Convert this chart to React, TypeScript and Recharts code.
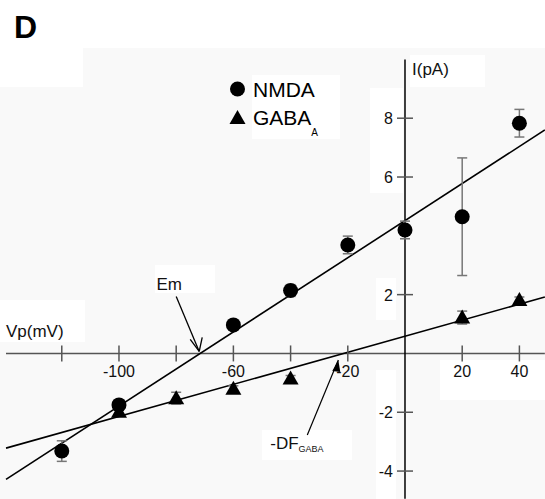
import React from "react";
import {
  ComposedChart,
  Scatter,
  XAxis,
  YAxis,
  ReferenceLine,
  ReferenceDot,
  ErrorBar,
} from "recharts";

// NMDA data (Vp in mV, I in pA)
const nmdaV = [-120, -100, -60, -40, -20, 0, 20, 40];
const nmdaI = [-3.32, -1.75, 0.97, 2.14, 3.69, 4.2, 4.65, 7.83];
const nmdaErr = [0.35, 0.15, 0.1, 0.2, 0.3, 0.3, 2.0, 0.47];

// GABA-A data
const gabaV = [-100, -80, -60, -40, 20, 40];
const gabaI = [-1.98, -1.52, -1.2, -0.85, 1.22, 1.82];
const gabaErr = [0.15, 0.2, 0.1, 0.1, 0.22, 0.1];

// Fitted lines (endpoints)
const nmdaFitV = [-139.5, 48.9];
const nmdaFitI = [-4.28, 7.6];
const gabaFitV = [-139.5, 48.9];
const gabaFitI = [-3.22, 1.92];

// Axis ticks
const xTicks = [-120, -100, -80, -60, -40, -20, 20, 40];
const xTickLabels = [-100, -60, -20, 20, 40];
const yTicks = [-4, -2, 2, 6, 8];

// Annotation positions (data coords)
const emV = -71.6;
const dfV = -20;

const nmdaData = nmdaV.map((v, i) => ({ v, i: nmdaI[i], e: nmdaErr[i] }));
const gabaData = gabaV.map((v, i) => ({ v, i: gabaI[i], e: gabaErr[i] }));

const FONT = "'Liberation Sans', Arial, Helvetica, sans-serif";

const Circle = (p: any) => <circle cx={p.cx} cy={p.cy} r={7.5} fill="#000" />;
const Triangle = (p: any) => (
  <polygon
    points={`${p.cx - 8},${p.cy + 6} ${p.cx + 8},${p.cy + 6} ${p.cx},${p.cy - 8}`}
    fill="#000"
  />
);

const XTick = (label: boolean) => (p: any) => (
  <g>
    <line x1={p.cx} y1={p.cy - 8} x2={p.cx} y2={p.cy + 8} stroke="#555" strokeWidth={1.5} />
    {label && (
      <text
        x={p.cx}
        y={p.cy + 24}
        textAnchor="middle"
        fontSize={16}
        fontFamily={FONT}
        fill="#111"
      >
        {p.label}
      </text>
    )}
  </g>
);

const YTick = (p: any) => (
  <g>
    <line x1={p.cx - 8} y1={p.cy} x2={p.cx + 8} y2={p.cy} stroke="#555" strokeWidth={1.5} />
    <text
      x={p.cx - 12}
      y={p.cy + 6}
      textAnchor="end"
      fontSize={16}
      fontFamily={FONT}
      fill="#111"
    >
      {p.label}
    </text>
  </g>
);

const EmMark = (p: any) => {
  const tx = p.cx - 1;
  const ty = p.cy - 2;
  return (
    <g>
      <line x1={p.cx - 24} y1={p.cy - 57} x2={tx} y2={ty} stroke="#000" strokeWidth={1.3} />
      <line x1={tx} y1={ty} x2={tx - 9} y2={ty - 12} stroke="#000" strokeWidth={1.3} />
      <line x1={tx} y1={ty} x2={tx + 3} y2={ty - 14} stroke="#000" strokeWidth={1.3} />
      <text x={p.cx - 31} y={p.cy - 63} textAnchor="middle" fontSize={17} fontFamily={FONT} fill="#111">
        Em
      </text>
    </g>
  );
};

const DfMark = (p: any) => {
  const tx = p.cx - 9.5;
  const ty = p.cy + 6.5;
  return (
    <g>
      <line x1={p.cx - 40.5} y1={p.cy + 81.5} x2={tx} y2={ty} stroke="#000" strokeWidth={1.2} />
      <polygon
        points={`${tx},${ty} ${tx - 6},${ty + 11} ${tx + 2},${ty + 12}`}
        fill="#000"
      />
      <text x={p.cx - 77.5} y={p.cy + 95.5} fontSize={17} fontFamily={FONT} fill="#111">
        -DF
        <tspan fontSize={9} dy={3}>GABA</tspan>
      </text>
    </g>
  );
};

export default function App() {
  return (
    <div
      style={{
        position: "absolute",
        left: 0,
        top: 0,
        width: 545,
        height: 499,
        background: "#fff",
        fontFamily: FONT,
      }}
    >
      <svg width={545} height={499} style={{ position: "absolute", left: 0, top: 0 }}>
        <rect x={83} y={48} width={462} height={451} fill="#f9f9f9" />
        <rect x={0} y={87} width={545} height={412} fill="#f9f9f9" />
        <rect x={0} y={300} width={85} height={42} fill="#fff" />
        <rect x={252} y={75} width={88} height={64} fill="#fff" />
        <rect x={410} y={55} width={75} height={32} fill="#fff" />
        <rect x={440} y={360} width={105} height={40} fill="#fff" />
        <rect x={376} y={278} width={20} height={42} fill="#fff" />
        <rect x={376} y={370} width={20} height={129} fill="#fff" />
        <rect x={262} y={430} width={90} height={30} fill="#fff" />
        <rect x={155} y={265} width={60} height={28} fill="#fff" />
        <rect x={370} y={88} width={33} height={105} fill="#fff" />
      </svg>
      <div style={{ position: "absolute", left: 0, top: 0 }}>
        <ComposedChart
          width={545}
          height={499}
          margin={{ top: 0, right: 0, bottom: 0, left: 0 }}
        >
          <XAxis
            dataKey="v"
            type="number"
            domain={[-141.6, 48.95]}
            hide
            allowDataOverflow
          />
          <YAxis type="number" domain={[-4.95, 12.02]} hide allowDataOverflow />

          <ReferenceLine
            segment={[
              { x: -139.5, y: 0 },
              { x: 48.9, y: 0 },
            ]}
            stroke="#555"
            strokeWidth={1.5}
          />
          <ReferenceLine
            segment={[
              { x: 0, y: 10 },
              { x: 0, y: -4.94 },
            ]}
            stroke="#000"
            strokeWidth={1.5}
          />

          {xTicks.map((t) => (
            <ReferenceDot
              key={"x" + t}
              x={t}
              y={0}
              r={0}
              shape={(p: any) => XTick(xTickLabels.includes(t))({ ...p, label: t })}
            />
          ))}
          {yTicks.map((t) => (
            <ReferenceDot
              key={"y" + t}
              x={0}
              y={t}
              r={0}
              shape={(p: any) => YTick({ ...p, label: t })}
            />
          ))}

          <ReferenceLine
            segment={[
              { x: nmdaFitV[0], y: nmdaFitI[0] },
              { x: nmdaFitV[1], y: nmdaFitI[1] },
            ]}
            stroke="#000"
            strokeWidth={1.6}
            ifOverflow="visible"
          />
          <ReferenceLine
            segment={[
              { x: gabaFitV[0], y: gabaFitI[0] },
              { x: gabaFitV[1], y: gabaFitI[1] },
            ]}
            stroke="#000"
            strokeWidth={1.6}
            ifOverflow="visible"
          />

          <Scatter data={nmdaData} dataKey="i" shape={Circle} isAnimationActive={false}>
            <ErrorBar dataKey="e" direction="y" width={5} stroke="#777" strokeWidth={1.5} />
          </Scatter>
          <Scatter data={gabaData} dataKey="i" shape={Triangle} isAnimationActive={false}>
            <ErrorBar dataKey="e" direction="y" width={5} stroke="#777" strokeWidth={1.5} />
          </Scatter>

          <ReferenceDot x={emV} y={0} r={0} shape={EmMark} />
          <ReferenceDot x={dfV} y={0} r={0} shape={DfMark} />
        </ComposedChart>
      </div>
      <svg
        width={545}
        height={499}
        style={{ position: "absolute", left: 0, top: 0, pointerEvents: "none" }}
      >
        <text x={14} y={38} fontSize={32} fontWeight="bold" fontFamily={FONT} fill="#000">
          D
        </text>
        <circle cx={237.5} cy={89} r={7.5} fill="#000" />
        <text x={253} y={97} fontSize={21} fontFamily={FONT} fill="#000">
          NMDA
        </text>
        <polygon points="229.5,124 245.5,124 237.5,110" fill="#000" />
        <text x={253} y={125} fontSize={21} fontFamily={FONT} fill="#000">
          GABA
          <tspan fontSize={10} dy={11}>A</tspan>
        </text>
        <text x={6} y={337} fontSize={17} fontFamily={FONT} fill="#111">
          Vp(mV)
        </text>
        <text x={412} y={75} fontSize={17} fontFamily={FONT} fill="#111">
          I(pA)
        </text>
      </svg>
    </div>
  );
}
